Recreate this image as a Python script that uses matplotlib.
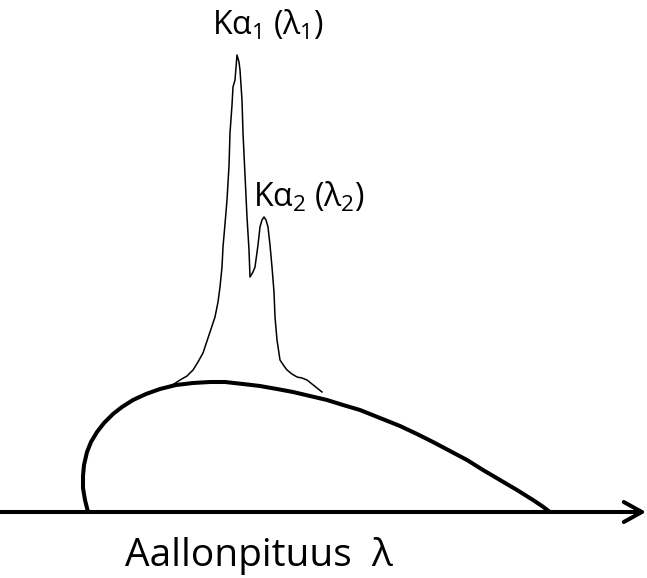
import numpy as np
import matplotlib
matplotlib.use('Agg')
import matplotlib.pyplot as plt

plt.rcParams['font.family'] = ['Open Sans', 'DejaVu Sans']
plt.rcParams['mathtext.fontset'] = 'custom'
plt.rcParams['mathtext.rm'] = 'Open Sans'
plt.rcParams['mathtext.it'] = 'Open Sans'

# characteristic K-alpha doublet, traced in pixel units (x right, y down)
peak_x = [167, 174, 180, 187, 193, 198, 203, 209, 215, 218, 220, 222,
          223, 225, 227, 229, 230, 232, 233, 235, 237, 239, 240, 242,
          243, 245, 247, 249, 250, 253, 255, 258, 260, 262, 264, 266,
          268, 270, 272, 274, 275, 277, 280, 284, 287, 292, 297, 302,
          307, 312, 317, 322]
peak_y = [387, 384, 380, 376, 370, 362, 353, 335, 317, 302, 287, 267,
          247, 224, 200, 166, 133, 105, 87, 80, 55, 62, 70, 100,
          133, 175, 217, 250, 277, 272, 267, 245, 227, 220, 217, 220,
          227, 245, 267, 292, 317, 340, 360, 366, 370, 374, 377, 378,
          380, 384, 388, 392]

# continuous (bremsstrahlung) spectrum
cont_x = [88, 85, 83, 83, 84, 87, 91, 97, 104, 113, 122, 133, 146,
          160, 176, 193, 210, 225, 243, 260, 277, 293, 310, 327, 343,
          360, 380, 400, 417, 433, 450, 467, 483, 500, 517, 533, 542,
          550]
cont_y = [512, 500, 488, 476, 465, 452, 442, 432, 423, 414, 407, 400,
          394, 389, 385, 383, 382, 382, 384, 386, 389, 392, 396, 400,
          405, 410, 418, 426, 434, 442, 451, 460, 470, 480, 490, 500,
          506, 512]

axis_y = 512
axis_x0, axis_x1 = 0, 646

fig = plt.figure(figsize=(6.47, 5.78), dpi=100)
ax = fig.add_axes([0, 0, 1, 1])
ax.set_xlim(0, 647)
ax.set_ylim(578, 0)
ax.axis('off')

ax.plot(cont_x, cont_y, color='black', lw=2.9, solid_capstyle='round',
        solid_joinstyle='round')
ax.plot(peak_x, peak_y, color='black', lw=1.1, solid_joinstyle='round')

# wavelength axis with open arrow head
ax.annotate('', xy=(axis_x1, axis_y), xytext=(axis_x0, axis_y),
            arrowprops=dict(arrowstyle='->,head_length=1.3,head_width=0.72',
                            mutation_scale=10, lw=2.9, color='black',
                            shrinkA=0, shrinkB=0))

ax.text(212, 35, r'K$\alpha_1$ ($\lambda_1$)', fontsize=23,
        ha='left', va='baseline')
ax.text(253, 207, r'K$\alpha_2$ ($\lambda_2$)', fontsize=23,
        ha='left', va='baseline')
ax.text(125, 566, 'Aallonpituus  λ', fontsize=28, ha='left', va='baseline')

fig.savefig('out.png', dpi=100)
